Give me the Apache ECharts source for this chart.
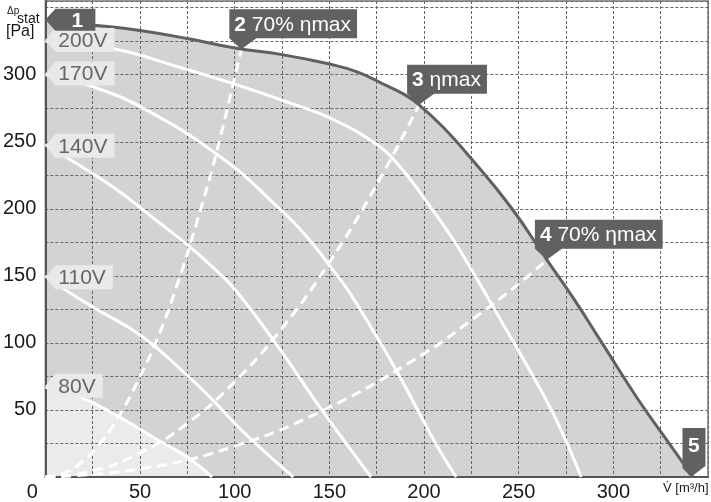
<!DOCTYPE html>
<html><head><meta charset="utf-8">
<script src="https://cdn.jsdelivr.net/npm/echarts@6/dist/echarts.min.js"></script>
<style>html,body{margin:0;padding:0;background:#fff}#c{width:711px;height:502px}</style>
</head><body><div id="c"></div>
<script>
// ---------- data ----------
const xTickLabels = [0, 50, 100, 150, 200, 250, 300];
const yTickLabels = [50, 100, 150, 200, 250, 300];

const maxCurve = [[0,341],[26,337],[50,333],[75,327],[100,320],[125,315],[150,308],[165,302],[180,292],[190,285],[197.4,277.6],[210,261],[224,239],[246,201],[264.9,162],[280,131],[294,100],[313,58],[330,24],[342,0]];
const curve200V = [[0,325],[37,319],[70,306],[100,293],[129,279],[150,268],[175,248],[187,232],[200,208],[215,178],[227,150],[243,111],[250,94],[268,48],[283,0]];
const curve170V = [[0,300],[19,294],[53,274],[97,234],[123,201],[129,193],[140,176],[151,156],[160,139],[174,107],[186,78],[197,49],[207,23],[217,0]];
const curve140V = [[0,248],[7,242],[35,217],[58,192],[76,172],[88,157],[100,140],[121,101],[146,50],[172,0]];
const curve110V = [[0,150],[9,141],[26,126],[51,105],[74,77],[88,58],[105,33],[131,0]];
const curve80V  = [[0,67],[18,60],[40,44],[60,27],[75,15],[88,0]];

const system2 = [[0,0],[10,3],[20,12],[30,27],[40,48],[50,75],[60,106],[70,145],[80,190],[90,240],[103.5,319]];
const system3 = [[0,0],[25,4.5],[50,18],[75,40],[100,71],[125,111],[150,160],[175,218],[197.4,277.6]];
const system4 = [[0,0],[50,6],[100,23],[150,52],[200,92],[225,117],[250,144],[264.9,162]];

const voltNames = ['200V', '170V', '140V', '110V', '80V'];
const voltStartP = [326, 301, 247, 149, 68];

const opNum  = ['1', '2', '3', '4', '5'];
const opText = ['', '70% ηmax', 'ηmax', '70% ηmax', ''];
const opX = [0, 103.5, 197.4, 264.9, 341];
const opY = [341, 319, 277.6, 162, 0];

// ---------- rendering ----------
const FONT = 'Liberation Sans, Arial, Helvetica, sans-serif';
const NARROW = 'Liberation Sans Narrow, Arial Narrow, Liberation Sans, sans-serif';
const ctx = document.createElement('canvas').getContext('2d');
function tw(t, font) { ctx.font = font; return ctx.measureText(t).width; }
const opShape = ['left', 'down', 'down', 'down', 'up'];

const chart = echarts.init(document.getElementById('c'), null, {renderer: 'canvas'});

function lineSeries(data, extra) {
  return Object.assign({type: 'line', data: data, symbol: 'none', smooth: 0.45, silent: true, animation: false}, extra);
}

const whiteLine = {color: '#ffffff', width: 3};
const dashLine = {color: '#ffffff', width: 3, type: [10, 6]};

chart.setOption({
  animation: false,
  grid: {left: 45, right: 1, top: 1, bottom: 25, show: true, borderColor: '#777', borderWidth: 1.5, backgroundColor: 'transparent'},
  xAxis: {
    type: 'value', min: 0, max: 350, interval: 25, z: 1,
    axisLine: {show: true, onZero: false, lineStyle: {color: '#555', width: 2}},
    axisTick: {show: false},
    splitLine: {show: true, lineStyle: {color: '#666', width: 1, type: [3, 2]}},
    axisLabel: {
      interval: 0, margin: 5, fontSize: 20, fontFamily: NARROW, color: '#1a1a1a',
      formatter: v => xTickLabels.indexOf(v) >= 0 ? (v === 0 ? '{z|0}' : String(v)) : '',
      rich: {z: {fontSize: 20, fontFamily: NARROW, color: '#1a1a1a', padding: [0, 26, 0, 0]}}
    }
  },
  yAxis: {
    type: 'value', min: 0, max: 355, interval: 25, z: 1,
    axisLine: {show: true, onZero: false, lineStyle: {color: '#555', width: 2}},
    axisTick: {show: false},
    splitLine: {show: true, lineStyle: {color: '#666', width: 1, type: [3, 2]}},
    axisLabel: {
      interval: 0, margin: 9, fontSize: 20, fontFamily: NARROW, color: '#1a1a1a',
      formatter: v => yTickLabels.indexOf(v) >= 0 ? String(v) : ''
    }
  },
  graphic: [
    {type: 'text', left: 7, top: 6, z: 10, style: {text: 'Δp', fontSize: 10, fontFamily: FONT, fill: '#1a1a1a'}},
    {type: 'text', left: 17, top: 12, z: 10, style: {text: 'stat', fontSize: 14, fontFamily: FONT, fill: '#1a1a1a'}},
    {type: 'text', left: 6, top: 24, z: 10, style: {text: '[Pa]', fontSize: 16, fontFamily: FONT, fill: '#1a1a1a'}},
    {type: 'text', left: 663, top: 482, z: 10, style: {text: 'V̇ [m³/h]', fontSize: 13, fontFamily: FONT, fill: '#1a1a1a'}}
  ],
  series: [
    lineSeries(maxCurve, {z: 0, lineStyle: {width: 0}, areaStyle: {color: '#d3d3d5', opacity: 1}}),
    lineSeries(curve80V, {z: 0.5, lineStyle: {width: 0}, areaStyle: {color: '#ebebec', opacity: 1}}),
    lineSeries(system2, {z: 3, lineStyle: dashLine}),
    lineSeries(system3, {z: 3, lineStyle: dashLine}),
    lineSeries(system4, {z: 3, lineStyle: dashLine}),
    lineSeries(curve200V, {z: 3, lineStyle: whiteLine}),
    lineSeries(curve170V, {z: 3, lineStyle: whiteLine}),
    lineSeries(curve140V, {z: 3, lineStyle: whiteLine}),
    lineSeries(curve110V, {z: 3, lineStyle: whiteLine}),
    lineSeries(curve80V, {z: 3, lineStyle: whiteLine}),
    lineSeries(maxCurve, {z: 4, lineStyle: {color: '#606060', width: 3}}),
    {
      type: 'custom', z: 5, silent: true, animation: false, clip: false,
      data: voltNames.map((n, i) => [0, voltStartP[i]]),
      renderItem: function (params, api) {
        const p = api.coord([api.value(0), api.value(1)]);
        const name = voltNames[params.dataIndex];
        const f = '21px ' + FONT;
        const w = 13 + tw(name, f) + 7;
        const h = 12;
        return {
          type: 'group', children: [
            {type: 'polygon', shape: {points: [[p[0], p[1]], [p[0] + 10, p[1] - h], [p[0] + w, p[1] - h], [p[0] + w, p[1] + h], [p[0] + 10, p[1] + h]]}, style: {fill: '#e9e9ea'}},
            {type: 'text', style: {text: name, x: p[0] + 13, y: p[1] + 1, fontSize: 21, fontFamily: FONT, fill: '#666666', align: 'left', verticalAlign: 'middle'}}
          ]
        };
      }
    },
    {
      type: 'custom', z: 6, silent: true, animation: false, clip: false,
      data: opNum.map((n, i) => [opX[i], opY[i]]),
      renderItem: function (params, api) {
        const i = params.dataIndex;
        const p = api.coord([api.value(0), api.value(1)]);
        const fill = '#616163';
        const shape = opShape[i];
        const rich = {b: {fontWeight: 'bold', fontSize: 21, fontFamily: FONT, fill: '#fff'}};
        if (shape === 'left') {
          const h = 11;
          return {type: 'group', children: [
            {type: 'polygon', shape: {points: [[p[0], p[1]], [p[0] + 10, p[1] - h], [p[0] + 50, p[1] - h], [p[0] + 50, p[1] + h], [p[0] + 10, p[1] + h]]}, style: {fill: fill}},
            {type: 'text', style: {text: opNum[i], x: p[0] + 32, y: p[1] + 1, fontSize: 21, fontWeight: 'bold', fontFamily: FONT, fill: '#fff', align: 'center', verticalAlign: 'middle'}}
          ]};
        }
        if (shape === 'up') {
          return {type: 'group', children: [
            {type: 'polygon', shape: {points: [[p[0] - 8.5, p[1] - 49], [p[0] + 14.5, p[1] - 49], [p[0] + 14.5, p[1] - 11], [p[0], p[1]], [p[0] - 8.5, p[1] - 9]]}, style: {fill: fill}},
            {type: 'text', style: {text: opNum[i], x: p[0] + 3, y: p[1] - 31, fontSize: 21, fontWeight: 'bold', fontFamily: FONT, fill: '#fff', align: 'center', verticalAlign: 'middle'}}
          ]};
        }
        const f = '21px ' + FONT;
        const textW = tw(opNum[i], 'bold ' + f) + tw(' ' + opText[i], f);
        const W = textW + 11, H = 29;
        const bx = p[0] - 12, by = p[1] - 11 - H;
        return {type: 'group', children: [
          {type: 'polygon', shape: {points: [[bx, by], [bx + W, by], [bx + W, by + H], [p[0] + 15, by + H], [p[0], p[1]], [bx, by + H]]}, style: {fill: fill}},
          {type: 'text', style: {text: '{b|' + opNum[i] + '} ' + opText[i], rich: rich, x: bx + 5, y: by + H / 2 + 1, fontSize: 21, fontFamily: FONT, fill: '#fff', align: 'left', verticalAlign: 'middle'}}
        ]};
      }
    }
  ]
});
</script>
</body></html>
